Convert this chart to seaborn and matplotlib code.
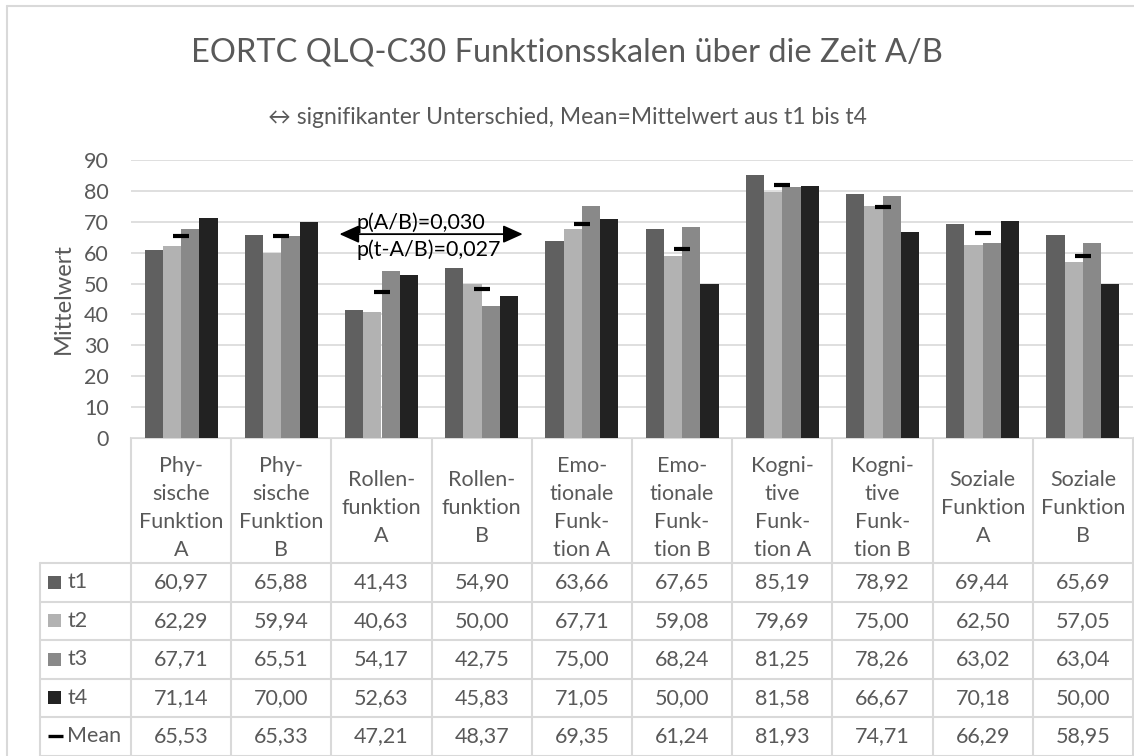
import matplotlib
matplotlib.use('Agg')
import matplotlib.pyplot as plt
import seaborn as sns
import pandas as pd

# Skalen (Spaltenköpfe der Datentabelle)
categories = ['Phy-\nsische\nFunktion\nA', 'Phy-\nsische\nFunktion\nB',
              'Rollen-\nfunktion\nA', 'Rollen-\nfunktion\nB',
              'Emo-\ntionale\nFunk-\ntion A', 'Emo-\ntionale\nFunk-\ntion B',
              'Kogni-\ntive\nFunk-\ntion A', 'Kogni-\ntive\nFunk-\ntion B',
              'Soziale\nFunktion\nA', 'Soziale\nFunktion\nB']
t1 = [60.97, 65.88, 41.43, 54.90, 63.66, 67.65, 85.19, 78.92, 69.44, 65.69]
t2 = [62.29, 59.94, 40.63, 50.00, 67.71, 59.08, 79.69, 75.00, 62.50, 57.05]
t3 = [67.71, 65.51, 54.17, 42.75, 75.00, 68.24, 81.25, 78.26, 63.02, 63.04]
t4 = [71.14, 70.00, 52.63, 45.83, 71.05, 50.00, 81.58, 66.67, 70.18, 50.00]
mean = [65.53, 65.33, 47.21, 48.37, 69.35, 61.24, 81.93, 74.71, 66.29, 58.95]
series_names = ['t1', 't2', 't3', 't4']
colors = ['#606060', '#b2b2b2', '#898989', '#222222']
yticks = [0, 10, 20, 30, 40, 50, 60, 70, 80, 90]

title = 'EORTC QLQ-C30 Funktionsskalen über die Zeit A/B'
subtitle = '↔ signifikanter Unterschied, Mean=Mittelwert aus t1 bis t4'
sig_text = ['p(A/B)=0,030', 'p(t-A/B)=0,027']

TXT = '#595959'
GRID = '#d9d9d9'

sns.set_theme(style='white')
plt.rcParams['font.family'] = ['Lato', 'DejaVu Sans']

W, H = 1134, 756
fig = plt.figure(figsize=(W / 100, H / 100), dpi=100)

# Diagrammfläche in Pixeln (links, oben, rechts, unten)
px_l, px_t, px_r, px_b = 131, 160, 1133, 438
ax = fig.add_axes([px_l / W, 1 - px_b / H, (px_r - px_l) / W, (px_b - px_t) / H])

df = pd.DataFrame({'Skala': categories * 4,
                   'Zeit': sum([[s] * len(categories) for s in series_names], []),
                   'Wert': t1 + t2 + t3 + t4})
sns.barplot(data=df, x='Skala', y='Wert', hue='Zeit', palette=colors,
            width=0.73, saturation=1, legend=False, linewidth=0, ax=ax)
ax.plot(range(len(categories)), mean, linestyle='none', marker='_',
        markersize=11, markeredgewidth=3, color='black', zorder=5)

ax.set_ylim(0, 90)
ax.set_xlim(-0.5, len(categories) - 0.5)
ax.set_yticks(yticks)
ax.set_yticklabels([str(v) for v in yticks], fontsize=15.5, color=TXT)
ax.set_xticks([])
ax.set_xlabel('')
ax.set_ylabel('Mittelwert', fontsize=17, color=TXT)
ax.yaxis.set_label_coords(-0.057, 0.5)
ax.tick_params(axis='y', length=0, pad=16)
ax.grid(axis='y', color=GRID, linewidth=1.2)
ax.set_axisbelow(True)
for sp in ax.spines.values():
    sp.set_visible(False)

# signifikanter Unterschied Rollenfunktion A/B
ax.annotate('', xy=(3.41, 66), xytext=(1.58, 66),
            arrowprops=dict(arrowstyle='<|-|>,head_length=0.6,head_width=0.27',
                            color='black', lw=1.3, mutation_scale=20,
                            shrinkA=0, shrinkB=0), zorder=6)
ax.text(1.755, 69.8, sig_text[0], fontsize=15.5, color='black', ha='left', va='center', zorder=6)
ax.text(1.755, 61.0, sig_text[1], fontsize=15.5, color='black', ha='left', va='center', zorder=6)

# Datentabelle unter dem Diagramm (Pixelkoordinaten)
tab = fig.add_axes([0, 0, 1, 1], zorder=-1)
tab.set_xlim(0, W)
tab.set_ylim(H, 0)
tab.axis('off')

n = len(categories)
col_w = (px_r - px_l) / n
head_bot = 563
row_h = 38.5
lab_l = 40
rows = [t1, t2, t3, t4, mean]
row_names = series_names + ['Mean']
tab_bot = head_bot + row_h * len(rows)

tab.plot([px_l, W], [px_b, px_b], color=GRID, lw=1.5)
for r in range(len(rows) + 1):
    y = head_bot + r * row_h
    tab.plot([lab_l, W], [y, y], color=GRID, lw=1.5)
for i in range(n + 1):
    x = px_l + i * col_w
    tab.plot([x, x], [px_b, tab_bot], color=GRID, lw=1.5)
tab.plot([lab_l, lab_l], [head_bot, tab_bot], color=GRID, lw=1.5)

for i, cat in enumerate(categories):
    xc = px_l + (i + 0.5) * col_w
    tab.text(xc, (px_b + head_bot) / 2 + 7, cat, ha='center', va='center',
             fontsize=15.5, color=TXT, linespacing=1.5)
    for r, vals in enumerate(rows):
        yc = head_bot + (r + 0.5) * row_h
        tab.text(xc, yc, f'{vals[i]:.2f}'.replace('.', ','), ha='center', va='center',
                 fontsize=15.5, color=TXT)

for r, name in enumerate(row_names):
    yc = head_bot + (r + 0.5) * row_h
    if name == 'Mean':
        tab.plot([48, 63], [yc, yc], color='black', lw=2.4, solid_capstyle='butt')
    else:
        tab.add_patch(plt.Rectangle((48, yc - 6.5), 13, 13, color=colors[r], lw=0))
    tab.text(67, yc, name, ha='left', va='center', fontsize=15.5, color=TXT)

# Rahmen des Diagrammbereichs
tab.plot([7, W], [6, 6], color=GRID, lw=1.5)
tab.plot([7, 7], [6, H], color=GRID, lw=1.5)

fig.text(0.5, 1 - 52 / H, title, ha='center', va='center', fontsize=23.5, color=TXT)
fig.text(0.5, 1 - 117 / H, subtitle, ha='center', va='center', fontsize=16.5, color=TXT,
         family=['Lato', 'DejaVu Sans'])

fig.savefig('out.png', dpi=100)
plt.close(fig)
